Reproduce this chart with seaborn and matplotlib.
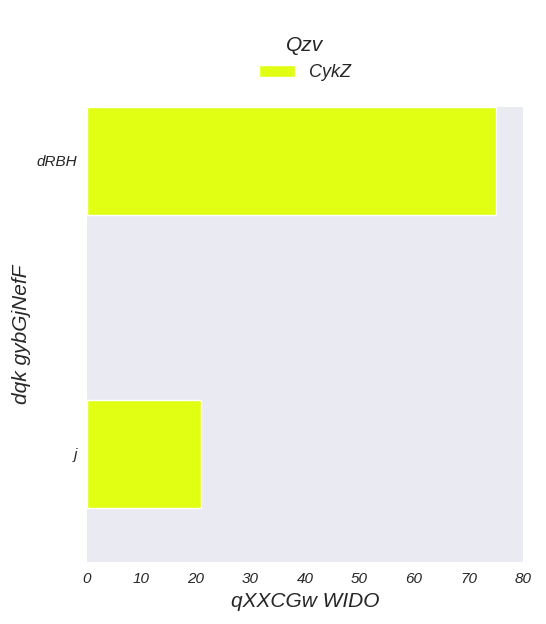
import matplotlib.pyplot as plt
import seaborn as sns
import pandas as pd

categories = ['dRBH', 'j']
values = [75, 21]
series = ['CykZ', 'CykZ']

sns.set_style('dark')
plt.rcParams['font.family'] = ['Liberation Sans', 'DejaVu Sans']
plt.rcParams['font.style'] = 'italic'

df = pd.DataFrame({'cat': categories, 'val': values, 'series': series})

fig = plt.figure(figsize=(5.46, 6.24), dpi=100)
ax = fig.add_axes([0.159, 0.099, 0.799, 0.730])
sns.barplot(data=df, x='val', y='cat', hue='series', orient='h', dodge=False,
            width=0.37, palette=['#e0ff12'], saturation=1, ax=ax)
ax.set_xlim(0, 80)
ax.set_ylim(1.37, -0.185)
ax.set_xlabel('qXXCGw WIDO', fontsize=15)
ax.set_ylabel('dqk gybGjNefF', fontsize=15)
ax.tick_params(labelsize=11)
for s in ax.spines.values():
    s.set_visible(False)
leg = ax.legend(title='Qzv', loc='lower center', bbox_to_anchor=(0.5, 1.02),
                frameon=False, fontsize=13, title_fontsize=15)
fig.savefig('out.png', dpi=100, facecolor='white')
